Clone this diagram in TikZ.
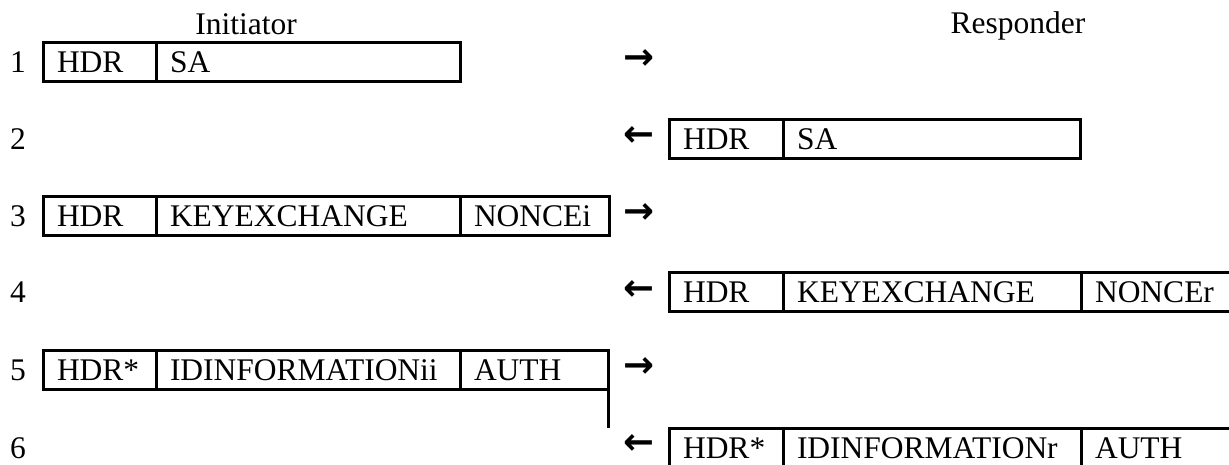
\documentclass[tikz,border=0pt]{standalone}
\usepackage{fontspec}
\setmainfont{Liberation Serif}
\newfontfamily\arrowfont{DejaVu Sans}
\begin{document}
\begin{tikzpicture}[x=1pt,y=-1pt,
  every node/.style={font=\fontsize{31.5}{38}\selectfont, outer sep=0pt},
  cell/.style={draw, line width=3pt, anchor=north west, minimum height=39pt,
    inner xsep=14pt, inner ysep=4.5pt, text height=25.5pt, text depth=4.5pt,
    align=left, text width=#1},
  lbl/.style={anchor=base, inner sep=0pt},
  arr/.style={anchor=center, inner sep=0pt, font=\arrowfont\bfseries\fontsize{37}{37}\selectfont},
  rule/.style={line width=3pt}]
\useasboundingbox (0,0) rectangle (1229,464);

% headers
\node[lbl] (hi) at (246,34) {Initiator};
\node[lbl] (hr) at (1018,33) {Responder};

% row numbers
\node[lbl] (n1) at (18,72) {1};
\node[lbl] (n2) at (18,149) {2};
\node[lbl] (n3) at (18,226) {3};
\node[lbl] (n4) at (18,302) {4};
\node[lbl] (n5) at (18,380) {5};
\node[lbl] (n6) at (18,458) {6};

% row 1
\node[cell=85pt] (r1a) at (43,42) {HDR};
\node[cell=276pt] (r1b) at (r1a.north east) {SA};
\node[arr] (a1) at (639,60) {→};

% row 2
\node[arr] (a2) at (639,137) {←};
\node[cell=86pt] (r2a) at (669,119) {HDR};
\node[cell=269pt] (r2b) at (r2a.north east) {SA};

% row 3
\node[cell=85pt] (r3a) at (43,196) {HDR};
\node[cell=276pt] (r3b) at (r3a.north east) {KEYEXCHANGE};
\node[cell=121pt] (r3c) at (r3b.north east) {NONCEi};
\node[arr] (a3) at (639,214) {→};

% row 4
\node[arr] (a4) at (639,291) {←};
\node[cell=86pt] (r4a) at (669,272) {HDR};
\node[cell=270pt] (r4b) at (r4a.north east) {KEYEXCHANGE};
\node[cell=127pt] (r4c) at (r4b.north east) {NONCEr};

% row 5
\node[cell=85pt] (r5a) at (43,350) {HDR*};
\node[cell=276pt] (r5b) at (r5a.north east) {IDINFORMATIONii};
\node[cell=120pt] (r5c) at (r5b.north east) {AUTH};
\node[arr] (a5) at (639,368) {→};

% row 6
\node[arr] (a6) at (639,445) {←};
\node[cell=86pt] (r6a) at (669,428) {HDR*};
\node[cell=270pt] (r6b) at (r6a.north east) {IDINFORMATIONr};
\node[cell=127pt] (r6c) at (r6b.north east) {AUTH};

% stray table border
\draw[rule] (r5c.south east) -- (r5c.south east |- r6a.north);
\end{tikzpicture}
\end{document}
